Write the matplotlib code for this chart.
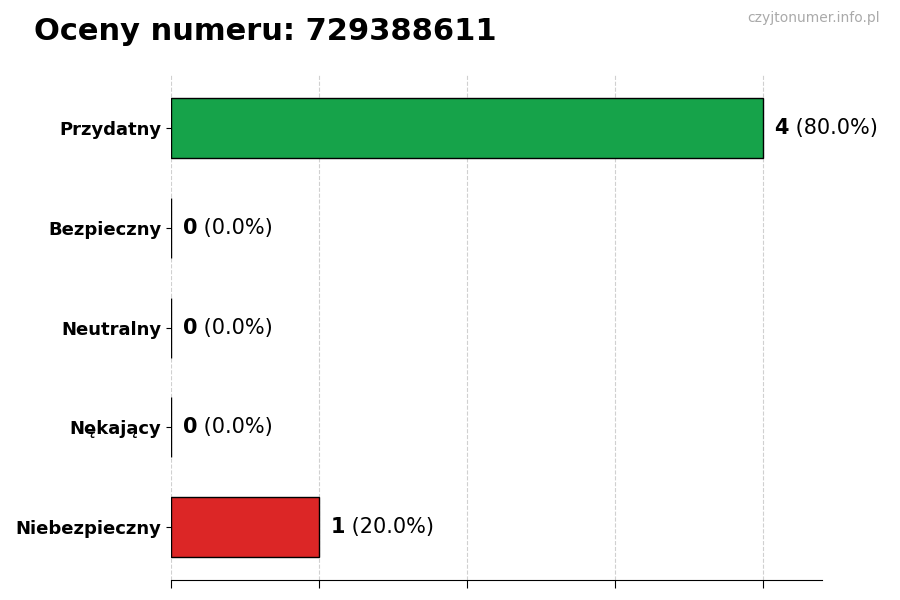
import matplotlib
matplotlib.use("Agg")
import matplotlib.pyplot as plt

# dane z wykresu
categories = ["Przydatny", "Bezpieczny", "Neutralny", "Nękający", "Niebezpieczny"]
counts = [4, 0, 0, 0, 1]
colors = ["#16a34a", "#16a34a", "#9ca3af", "#dc2626", "#dc2626"]
number = "729388611"

total = sum(counts)
positions = list(range(len(categories)))

fig = plt.figure(figsize=(9, 6), dpi=100)
ax = fig.add_axes([0.19, 0.033, 0.723, 0.842])

ax.barh(positions, counts, height=0.6, color=colors, edgecolor="black", linewidth=1, zorder=3)
ax.invert_yaxis()
ax.set_xlim(0, 4.4)

ax.set_yticks(positions)
ax.set_yticklabels(categories, fontsize=13, fontweight="bold")
ax.set_xticks([0, 1, 2, 3, 4])
ax.set_xticklabels([])
ax.tick_params(axis="x", length=6)

ax.grid(axis="x", linestyle="--", color="#d0d0d0", linewidth=0.8, zorder=0)
for side in ["top", "right", "left"]:
    ax.spines[side].set_visible(False)

for pos, val in zip(positions, counts):
    pct = val / total * 100
    t = ax.text(val + 0.08, pos, f"{val}", fontsize=15, fontweight="bold",
                va="center", ha="left")
    fig.canvas.draw()
    bb = t.get_window_extent().transformed(ax.transData.inverted())
    ax.text(bb.x1, pos, f" ({pct:.1f}%)", fontsize=15, va="center", ha="left")

fig.text(0.038, 0.948, f"Oceny numeru: {number}", fontsize=22, fontweight="bold",
         va="center", ha="left")
fig.text(0.978, 0.97, "czyjtonumer.info.pl", fontsize=10, color="#aaaaaa",
         va="center", ha="right")

plt.savefig("out.png", dpi=100)
plt.close()
